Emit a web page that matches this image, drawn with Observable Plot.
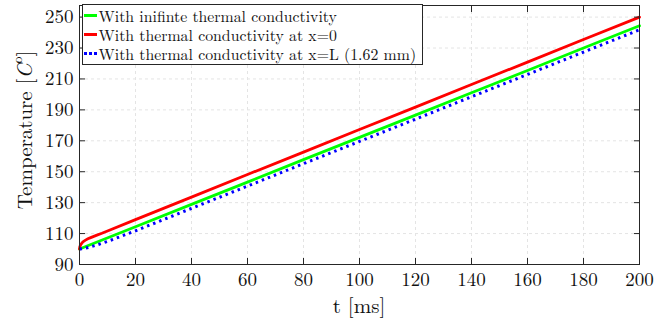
<!DOCTYPE html>
<html>
<head>
<meta charset="utf-8">
<script src="https://cdn.jsdelivr.net/npm/d3@7"></script>
<script src="https://cdn.jsdelivr.net/npm/@observablehq/plot@0.6"></script>
<style>
  html, body { margin: 0; padding: 0; background: #fff; }
  #wrap { position: relative; width: 671px; height: 326px; }
  #legend {
    position: absolute; left: 82px; top: 4px; width: 341px; height: 61px;
    background: #fff; border: 1px solid #262626; box-sizing: border-box;
    font-family: 'Latin Modern Roman', 'Liberation Serif'; font-size: 15.8px; color: #111;
    padding-top: 0.5px; white-space: nowrap;
  }
  .row { display: flex; align-items: center; height: 19px; line-height: 19px; }
  .sw { width: 13px; margin-left: 1px; margin-right: 1.5px; height: 0; }
</style>
</head>
<body>
<div id="wrap"><div id="legend"></div></div>
<script>
// ---- data ----
const seriesNames = [
  "With inifinte thermal conductivity",
  "With thermal conductivity at x=0",
  "With thermal conductivity at x=L (1.62 mm)"
];
const seriesColors = ["#00ff00", "#ff0000", "#0000ff"];

const tGreen = [0, 20, 40, 60, 80, 100, 120, 140, 160, 180, 200];
const vGreen = [100, 114.4, 128.9, 143.3, 157.8, 172.2, 186.6, 201.1, 215.5, 230.0, 244.4];

const tRed = [0, 0.1, 0.25, 0.5, 1, 1.5, 2, 3, 4, 6, 8, 10, 20, 40, 60, 80, 100, 120, 140, 160, 180, 200];
const vRed = [100, 101.3, 102.1, 103.0, 104.2, 105.0, 105.6, 106.6, 107.4, 108.8, 110.2, 111.7, 119.0, 133.6, 148.2, 162.7, 177.3, 191.8, 206.4, 220.9, 235.5, 250.0];

const tBlue = [0, 1, 2, 4, 6, 10, 20, 40, 60, 80, 100, 120, 140, 160, 180, 200];
const vBlue = [100, 100.2, 100.5, 101.4, 102.5, 104.9, 111.8, 126.3, 140.7, 155.2, 169.6, 184.0, 198.5, 212.9, 227.4, 241.8];

const xTicks = [0, 20, 40, 60, 80, 100, 120, 140, 160, 180, 200];
const yTicks = [90, 110, 130, 150, 170, 190, 210, 230, 250];

const green = tGreen.map((t, i) => ({t, v: vGreen[i]}));
const red = tRed.map((t, i) => ({t, v: vRed[i]}));
const blue = tBlue.map((t, i) => ({t, v: vBlue[i]}));

const font = "'Latin Modern Roman', 'Liberation Serif'";

const chart = Plot.plot({
  width: 671,
  height: 326,
  marginLeft: 79,
  marginRight: 32,
  marginTop: 5,
  marginBottom: 62,
  style: {fontFamily: font, fontSize: "19px", color: "#262626", background: "#fff"},
  x: {domain: [0, 200]},
  y: {domain: [90, 257.5]},
  marks: [
    Plot.gridX(xTicks, {stroke: "#e4e4e4", strokeOpacity: 1, strokeDasharray: "3,3"}),
    Plot.gridY(yTicks, {stroke: "#e4e4e4", strokeOpacity: 1, strokeDasharray: "3,3"}),
    Plot.line(green, {x: "t", y: "v", stroke: seriesColors[0], strokeWidth: 2.8}),
    Plot.line(red, {x: "t", y: "v", stroke: seriesColors[1], strokeWidth: 2.8}),
    Plot.line(blue, {x: "t", y: "v", stroke: seriesColors[2], strokeWidth: 3, strokeDasharray: "2.5,4", strokeLinecap: "butt"}),
    Plot.axisX(xTicks, {anchor: "bottom", tickSize: -6, tickPadding: 14, label: null, stroke: "#262626", fill: "#111"}),
    Plot.axisX(xTicks, {anchor: "top", tickSize: -6, tickFormat: () => "", label: null, stroke: "#262626"}),
    Plot.axisY(yTicks, {anchor: "left", tickSize: -6, tickPadding: 12, label: null, stroke: "#262626", fill: "#111"}),
    Plot.axisY(yTicks, {anchor: "right", tickSize: -6, tickFormat: () => "", label: null, stroke: "#262626"}),
    Plot.frame({stroke: "#262626", strokeWidth: 1})
  ]
});

const svg = d3.select(chart);
svg.selectAll("text").style("font-family", font);
// axis titles
const yl = svg.append("text")
  .attr("transform", "translate(32,130) rotate(-90)")
  .attr("text-anchor", "middle")
  .style("font-family", font).style("font-size", "21px").attr("fill", "#111");
yl.append("tspan").text("Temperature [");
yl.append("tspan").style("font-style", "italic").text("C");
yl.append("tspan").attr("baseline-shift", "super").style("font-size", "14px").text("o");
yl.append("tspan").text("]");

svg.append("text")
  .attr("x", 359).attr("y", 313)
  .attr("text-anchor", "middle")
  .style("font-family", font).style("font-size", "21px").attr("fill", "#111")
  .text("t [ms]");

document.getElementById("wrap").prepend(chart);
chart.style.position = "absolute";
chart.style.left = "0px";
chart.style.top = "0px";

// legend
const leg = document.getElementById("legend");
seriesNames.forEach((name, i) => {
  const row = document.createElement("div");
  row.className = "row";
  const sw = document.createElement("span");
  sw.className = "sw";
  sw.style.borderTop = i === 2 ? `3px dotted ${seriesColors[i]}` : `3px solid ${seriesColors[i]}`;
  const tx = document.createElement("span");
  tx.textContent = name;
  row.appendChild(sw); row.appendChild(tx);
  leg.appendChild(row);
});
</script>
</body>
</html>
